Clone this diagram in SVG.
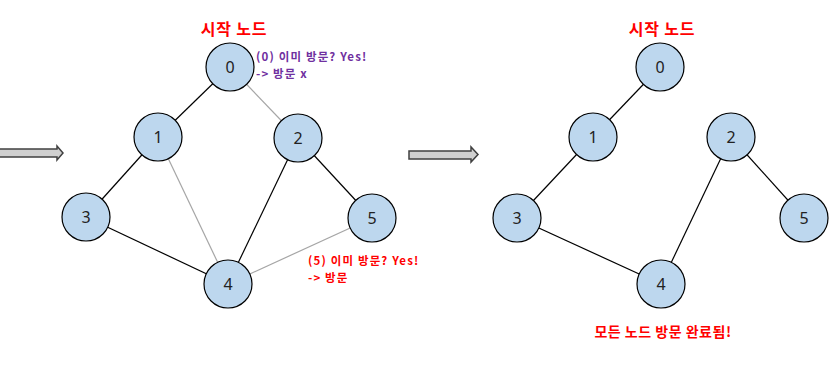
<svg xmlns="http://www.w3.org/2000/svg" width="834" height="376" viewBox="0 0 834 376">
<defs>
<style>
.node circle{fill:#BDD7EE;stroke:#000;stroke-width:1.2}
.node text{font-family:"Segoe UI","Noto Sans","DejaVu Sans",sans-serif;font-size:16px;fill:#222;text-anchor:middle;dominant-baseline:central}
.e{stroke:#000;stroke-width:1.2;fill:none}
.g{stroke:#A6A6A6;stroke-width:1.2;fill:none}
.t{font-family:"Noto Sans CJK KR",sans-serif;font-weight:bold}
.s{font-size:11.5px;letter-spacing:1.15px}
.arrow{fill:#D0D0D0;stroke:#404040;stroke-width:1.5}
</style>
</defs>
<rect width="834" height="376" fill="#fff"/>
<g id="connectors">
<line class="e" x1="230" y1="67" x2="158" y2="137"/>
<line class="g" x1="230" y1="67" x2="298" y2="138"/>
<line class="e" x1="158" y1="137" x2="86" y2="217"/>
<line class="g" x1="158" y1="137" x2="228" y2="284"/>
<line class="e" x1="298" y1="138" x2="228" y2="284"/>
<line class="e" x1="298" y1="138" x2="372" y2="218"/>
<line class="e" x1="86" y1="217" x2="228" y2="284"/>
<line class="g" x1="372" y1="218" x2="228" y2="284"/>
<line class="e" x1="660" y1="67" x2="593" y2="137"/>
<line class="e" x1="593" y1="137" x2="517" y2="218"/>
<line class="e" x1="517" y1="218" x2="661" y2="284"/>
<line class="e" x1="661" y1="284" x2="731" y2="137"/>
<line class="e" x1="731" y1="137" x2="804" y2="218"/>
</g>
<g id="arrow-left"><path class="arrow" d="M-2,149 H57 V146 L63,153 L57,160 V157 H-2 Z"/></g>
<g id="arrow-mid"><path class="arrow" d="M409,151 H471 V147 L478,154.5 L471,162 V159 H409 Z"/></g>
<g id="L0" class="node"><circle cx="230" cy="67" r="24"/><text x="230" y="67">0</text></g>
<g id="L1" class="node"><circle cx="158" cy="137" r="24"/><text x="158" y="137">1</text></g>
<g id="L2" class="node"><circle cx="298" cy="138" r="24"/><text x="298" y="138">2</text></g>
<g id="L3" class="node"><circle cx="86" cy="217" r="24"/><text x="86" y="217">3</text></g>
<g id="L4" class="node"><circle cx="228" cy="284" r="24"/><text x="228" y="284">4</text></g>
<g id="L5" class="node"><circle cx="372" cy="218" r="24"/><text x="372" y="218">5</text></g>
<g id="R0" class="node"><circle cx="660" cy="67" r="24"/><text x="660" y="67">0</text></g>
<g id="R1" class="node"><circle cx="593" cy="137" r="24"/><text x="593" y="137">1</text></g>
<g id="R2" class="node"><circle cx="731" cy="137" r="24"/><text x="731" y="137">2</text></g>
<g id="R3" class="node"><circle cx="517" cy="218" r="24"/><text x="517" y="218">3</text></g>
<g id="R4" class="node"><circle cx="661" cy="284" r="24"/><text x="661" y="284">4</text></g>
<g id="R5" class="node"><circle cx="804" cy="218" r="24"/><text x="804" y="218">5</text></g>
<g id="labels">
<text class="t" x="234" y="35" font-size="16" letter-spacing="0.8" fill="#FF0000" text-anchor="middle">시작 노드</text>
<text class="t" x="662" y="35" font-size="16" letter-spacing="0.8" fill="#FF0000" text-anchor="middle">시작 노드</text>
<text class="t s" x="256" y="61" fill="#7030A0">(0) 이미 방문? Yes!</text>
<text class="t s" x="256" y="78" fill="#7030A0">-&gt; 방문 x</text>
<text class="t s" x="308" y="265" fill="#FF0000">(5) 이미 방문? Yes!</text>
<text class="t s" x="308" y="282" fill="#FF0000">-&gt; 방문</text>
<text class="t" x="663" y="337" font-size="14" letter-spacing="0.5" fill="#FF0000" text-anchor="middle">모든 노드 방문 완료됨!</text>
</g>
</svg>
